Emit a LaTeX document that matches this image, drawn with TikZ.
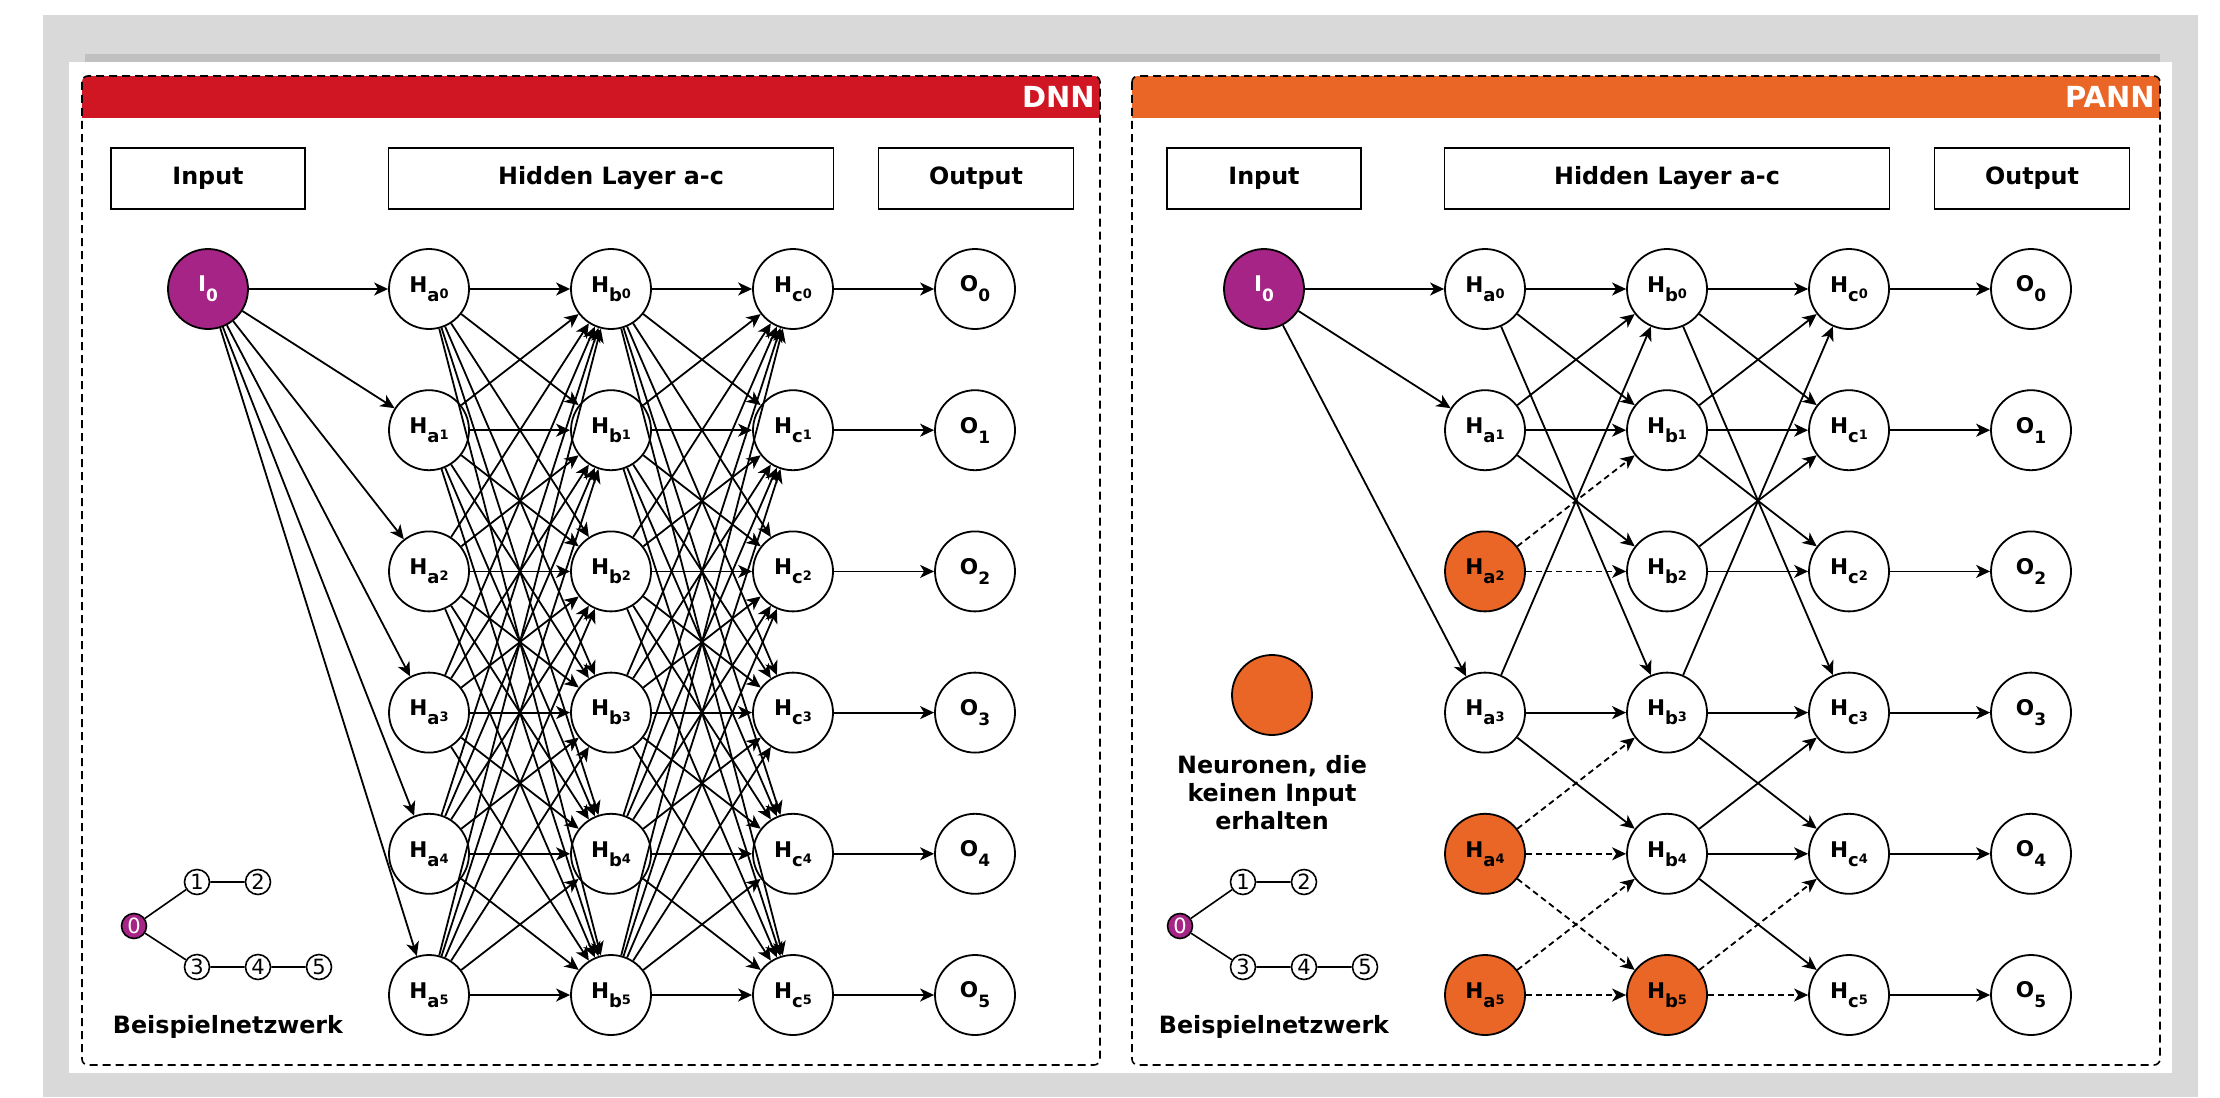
\documentclass[tikz,border=0pt]{standalone}
\usepackage{fontspec}
\setmainfont{DejaVu Sans}
\usetikzlibrary{arrows.meta,positioning}

\definecolor{dnnred}{RGB}{208,22,34}
\definecolor{pannorange}{RGB}{234,102,38}
\definecolor{inmagenta}{RGB}{166,36,134}
\definecolor{pagegray}{RGB}{217,217,217}
\definecolor{shadegray}{RGB}{192,192,192}

\newcommand{\hlab}[2]{H\raisebox{-4.5pt}{\fontsize{9}{10}\selectfont #1\raisebox{1.5pt}{\fontsize{6.5}{7}\selectfont #2}}}
\newcommand{\olab}[1]{O\raisebox{-5pt}{\fontsize{8.5}{9}\selectfont #1}}
\newcommand{\ilab}[1]{I\raisebox{-5pt}{\fontsize{8.5}{9}\selectfont #1}}

\begin{document}
\begin{tikzpicture}
    [
      x=0.5pt, y=-0.5pt,
      >={Stealth[length=7pt, width=6.5pt, inset=2pt]},
      neuron/.style={circle, draw, line width=0.9pt, minimum size=40pt, inner sep=0pt, fill=white, font=\bfseries\fontsize{10.8}{12}\selectfont},
      input neuron/.style={neuron, fill=inmagenta, text=white},
      link/.style={->, line width=0.9pt},
      dead link/.style={link, dash pattern=on 3pt off 2pt},
      panel/.style={draw, line width=0.8pt, dash pattern=on 4pt off 2.5pt, rounded corners=3pt},
      layer box/.style={draw, line width=0.9pt, minimum height=30.5pt, inner sep=0pt, font=\bfseries\fontsize{11.9}{14}\selectfont},
      title/.style={anchor=east, inner sep=0pt, text=white, font=\bfseries\fontsize{14.5}{16}\selectfont},
      mini/.style={circle, draw, line width=0.8pt, minimum size=12.5pt, inner sep=0pt, fill=white, font=\fontsize{10.5}{10.5}\selectfont},
      caption/.style={inner sep=0pt, align=center, font=\bfseries\fontsize{11.9}{14}\selectfont}
    ]
    \useasboundingbox (0,0) rectangle (2220,1097);
    % page background
    \fill[white] (0,0) rectangle (2220,1097);
    \fill[pagegray] (43,15) rectangle (2198,1097);
    \fill[shadegray] (85,54) rectangle (2160,62);
    \fill[white] (69,62) rectangle (2172,1073);

    % panels with coloured head
    \foreach \x/\w/\col/\name in {82/1100/dnnred/DNN, 1132/2160/pannorange/PANN} {
      \begin{scope}
        \clip[rounded corners=3pt] (\x,76) rectangle (\w,1065);
        \fill[\col] (\x,76) rectangle (\w,118);
      \end{scope}
      \draw[panel] (\x,76) rectangle (\w,1065);
      \node[title] (t\name) at (\w-5,97) {\name};
    }

    % layer boxes
    \foreach \p/\dx in {d/0, p/1056} {
      \node[layer box, minimum width=97pt] (\p In) at (208+\dx,178.5) {Input};
      \node[layer box, minimum width=222.5pt] (\p Hid) at (611+\dx,178.5) {Hidden Layer a-c};
      \node[layer box, minimum width=97.5pt] (\p Out) at (976+\dx,178.5) {Output};
    }

    % DNN
    \node[input neuron] (dI) at (208,289) {\ilab{0}};
    \foreach \i in {0,...,5} {
      \node[neuron] (da\i) at (429,289+141.2*\i) {\hlab{a}{\i}};
      \node[neuron] (db\i) at (611,289+141.2*\i) {\hlab{b}{\i}};
      \node[neuron] (dc\i) at (793,289+141.2*\i) {\hlab{c}{\i}};
      \node[neuron] (dO\i) at (975,289+141.2*\i) {\olab{\i}};
    }
    \foreach \i in {0,...,5} {
      \draw[link] (dI) -- (da\i);
      \draw[link] (dc\i) -- (dO\i);
      \foreach \j in {0,...,5} {
        \draw[link] (da\i) -- (db\j);
        \draw[link] (db\i) -- (dc\j);
      }
    }

    % PANN
    \node[input neuron] (pI) at (1264,289) {\ilab{0}};
    \foreach \i/\fa/\fb in {0/white/white, 1/white/white, 2/pannorange/white, 3/white/white, 4/pannorange/white, 5/pannorange/pannorange} {
      \node[neuron, fill=\fa] (pa\i) at (1485,289+141.2*\i) {\hlab{a}{\i}};
      \node[neuron, fill=\fb] (pb\i) at (1667,289+141.2*\i) {\hlab{b}{\i}};
      \node[neuron] (pc\i) at (1849,289+141.2*\i) {\hlab{c}{\i}};
      \node[neuron] (pO\i) at (2031,289+141.2*\i) {\olab{\i}};
      \draw[link] (pc\i) -- (pO\i);
    }
    \foreach \i/\j in {I/a0, I/a1, I/a3, a0/b0, a0/b1, a0/b3, a1/b0, a1/b1, a1/b2,
                       a3/b0, a3/b3, a3/b4, b0/c0, b0/c1, b0/c3, b1/c0, b1/c1, b1/c2,
                       b2/c1, b2/c2, b3/c0, b3/c3, b3/c4, b4/c3, b4/c4, b4/c5}
      \draw[link] (p\i) -- (p\j);
    \foreach \i/\j in {a2/b1, a2/b2, a4/b3, a4/b4, a4/b5, a5/b4, a5/b5, b5/c4, b5/c5}
      \draw[dead link] (p\i) -- (p\j);

    % legend
    \node[neuron, fill=pannorange] (legend) at (1272,695) {};
    \node[caption, below=9.5pt of legend] (legendtext) {Neuronen, die\\keinen Input\\erhalten};

    % example networks
    \foreach \p/\dx in {d/0, p/1046} {
      \node[mini, fill=inmagenta, text=white] (\p m0) at (134+\dx,926) {0};
      \node[mini] (\p m1) at (197+\dx,882) {1};
      \node[mini] (\p m2) at (258+\dx,882) {2};
      \node[mini] (\p m3) at (197+\dx,967) {3};
      \node[mini] (\p m4) at (258+\dx,967) {4};
      \node[mini] (\p m5) at (319+\dx,967) {5};
      \draw[line width=0.8pt] (\p m0) -- (\p m1) -- (\p m2);
      \draw[line width=0.8pt] (\p m0) -- (\p m3) -- (\p m4) -- (\p m5);
      \node[caption] (\p bsp) at (228+\dx,1027) {Beispielnetzwerk};
    }
\end{tikzpicture}
\end{document}
